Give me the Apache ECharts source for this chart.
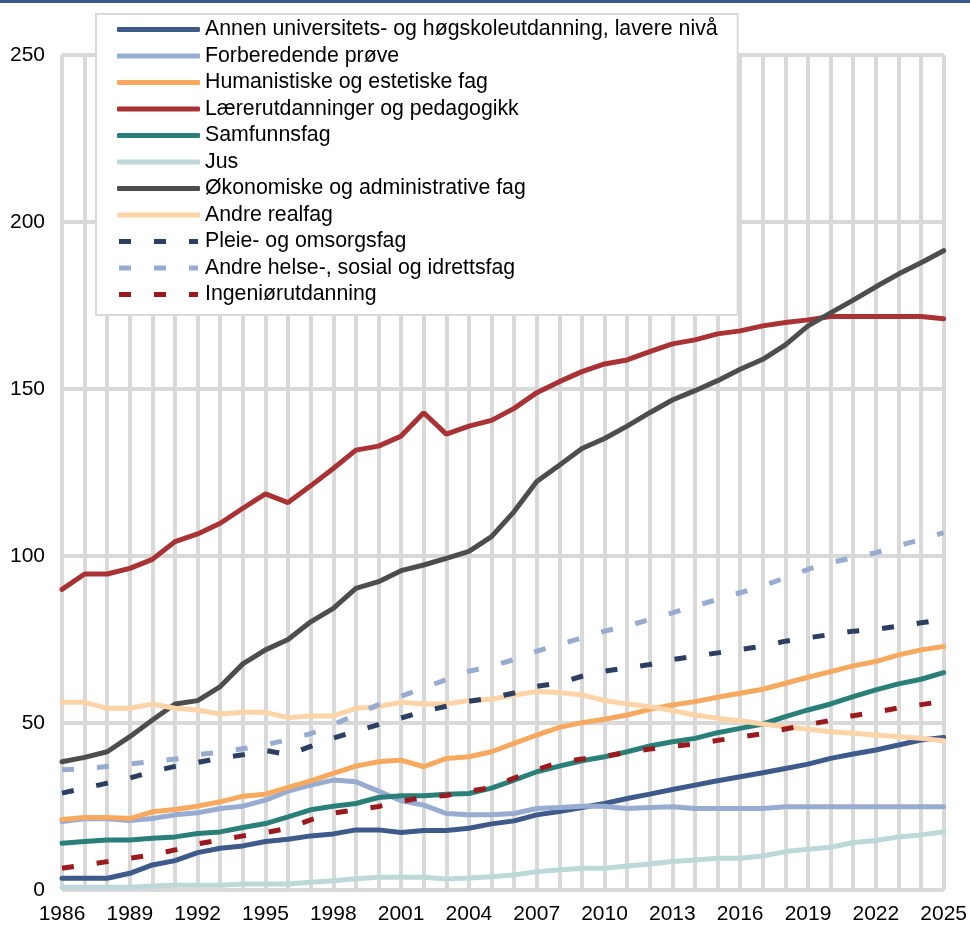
<!DOCTYPE html>
<html>
<head>
<meta charset="utf-8">
<script src="https://cdn.jsdelivr.net/npm/echarts@6/dist/echarts.min.js"></script>
<style>
  html, body { margin: 0; padding: 0; background: #fff; }
  #chart { width: 970px; height: 926px; }
</style>
</head>
<body>
<div id="chart"></div>
<script>
// år 1986-2025
var years = []
for (var y = 1986; y <= 2025; y++) years.push(String(y))

var names = [
  'Annen universitets- og høgskoleutdanning, lavere nivå',
  'Forberedende prøve',
  'Humanistiske og estetiske fag',
  'Lærerutdanninger og pedagogikk',
  'Samfunnsfag',
  'Jus',
  'Økonomiske og administrative fag',
  'Andre realfag',
  'Pleie- og omsorgsfag',
  'Andre helse-, sosial og idrettsfag',
  'Ingeniørutdanning'
]

var annen = [3.5, 3.5, 3.5, 5.0, 7.5, 8.8, 11.2, 12.5, 13.2, 14.5, 15.2, 16.2, 16.8, 18.0, 18.0, 17.2, 17.8, 17.8, 18.5, 19.8,
  20.7, 22.5, 23.5, 24.7, 25.9, 27.4, 28.7, 30.1, 31.4, 32.7, 33.9, 35.1, 36.4, 37.7, 39.4, 40.7, 41.9, 43.4, 44.9, 45.7]
var forberedende = [20.5, 21.3, 21.3, 20.8, 21.4, 22.5, 23.1, 24.4, 25.1, 26.9, 29.6, 31.4, 32.9, 32.4, 29.6, 26.7, 25.4, 22.9, 22.5, 22.5,
  22.9, 24.4, 24.7, 25.1, 25.1, 24.4, 24.7, 24.9, 24.4, 24.4, 24.4, 24.4, 24.9, 24.9, 24.9, 24.9, 24.9, 24.9, 24.9, 24.9]
var humanistiske = [21.1, 21.7, 21.7, 21.4, 23.4, 24.1, 25.1, 26.4, 28.1, 28.7, 30.7, 32.7, 34.9, 37.1, 38.4, 38.9, 36.9, 39.4, 39.9, 41.4,
  43.9, 46.4, 48.7, 50.1, 51.1, 52.4, 54.1, 55.4, 56.4, 57.7, 58.9, 60.1, 61.9, 63.7, 65.4, 67.1, 68.4, 70.4, 71.9, 72.9]
var laerer = [90.0, 94.6, 94.6, 96.3, 99.0, 104.3, 106.6, 109.8, 114.3, 118.6, 116.0, 121.0, 126.2, 131.7, 132.9, 135.9, 142.9, 136.5, 138.9, 140.6,
  144.2, 148.9, 152.2, 155.2, 157.5, 158.7, 161.2, 163.5, 164.7, 166.5, 167.4, 168.9, 169.9, 170.7, 171.7, 171.7, 171.7, 171.7, 171.7, 171.0]
var samfunnsfag = [14.0, 14.5, 15.0, 15.0, 15.5, 15.9, 16.9, 17.4, 18.7, 19.9, 21.9, 24.0, 25.1, 25.9, 27.7, 28.2, 28.2, 28.7, 28.9, 30.5,
  32.9, 35.4, 37.1, 38.7, 39.9, 41.4, 43.1, 44.4, 45.4, 47.1, 48.4, 49.7, 51.9, 53.9, 55.7, 57.9, 59.9, 61.7, 63.1, 65.1]
var jus = [0.8, 0.8, 0.8, 0.8, 1.2, 1.4, 1.4, 1.4, 1.8, 1.8, 1.8, 2.3, 2.8, 3.4, 3.8, 3.8, 3.8, 3.3, 3.6, 4.0,
  4.5, 5.5, 6.0, 6.5, 6.5, 7.2, 7.8, 8.5, 9.0, 9.5, 9.5, 10.2, 11.5, 12.2, 12.8, 14.2, 14.8, 15.9, 16.5, 17.4]
var okonomiske = [38.4, 39.7, 41.4, 45.9, 50.9, 55.7, 56.7, 60.9, 67.7, 71.9, 75.0, 80.3, 84.3, 90.3, 92.3, 95.6, 97.3, 99.3, 101.4, 105.8,
  113.3, 122.3, 127.2, 132.2, 135.2, 138.9, 142.9, 146.7, 149.5, 152.5, 155.9, 158.9, 163.2, 168.9, 172.8, 176.6, 180.6, 184.4, 187.8, 191.4]
var realfag = [56.2, 56.2, 54.4, 54.4, 55.7, 54.4, 53.9, 52.7, 53.2, 53.2, 51.6, 52.1, 52.1, 54.4, 54.9, 56.2, 55.7, 55.7, 56.7, 57.1,
  58.4, 59.4, 59.1, 58.4, 56.7, 55.7, 54.9, 53.7, 52.4, 51.4, 50.7, 49.7, 48.9, 48.1, 47.4, 46.9, 46.4, 45.9, 45.4, 44.7]
var pleie = [29.0, 30.5, 32.0, 33.5, 35.5, 37.0, 38.2, 39.5, 40.5, 41.8, 40.5, 43.0, 45.5, 47.5, 49.5, 51.5, 53.5, 55.0, 56.5, 57.5,
  59.0, 61.0, 62.0, 64.0, 65.5, 66.5, 67.5, 69.0, 70.0, 71.0, 72.0, 73.0, 74.5, 75.5, 76.5, 77.5, 78.0, 79.0, 80.0, 81.0]
var helse = [36.0, 36.3, 37.0, 37.7, 38.5, 39.2, 40.5, 41.3, 42.3, 43.5, 45.0, 46.8, 49.5, 52.5, 55.5, 58.0, 60.5, 63.0, 65.5, 67.0,
  69.0, 71.5, 73.5, 75.5, 77.5, 79.0, 81.0, 83.0, 85.0, 87.0, 89.0, 91.0, 93.5, 96.0, 98.0, 99.5, 101.0, 103.0, 105.0, 107.0]
var ingenior = [6.5, 7.5, 8.5, 9.5, 10.5, 12.0, 13.8, 15.0, 16.2, 17.2, 18.5, 21.0, 23.0, 24.0, 25.0, 26.5, 27.8, 28.3, 29.5, 30.7,
  33.5, 36.0, 38.2, 39.2, 40.0, 41.2, 42.2, 43.0, 43.7, 44.8, 45.8, 46.8, 48.2, 49.5, 50.8, 52.2, 53.2, 54.5, 55.5, 56.5]

var values = [annen, forberedende, humanistiske, laerer, samfunnsfag, jus, okonomiske, realfag, pleie, helse, ingenior]
var colors = ['#3e5a8a', '#98abd0', '#f6a95f', '#a83234', '#2a8079', '#bdd8d8', '#4d4d4d', '#fcd4a8', '#2c3e62', '#98abd0', '#9a1a1f']
var dashed = [false, false, false, false, false, false, false, false, true, true, true]

var font = 'Liberation Sans, Arial, sans-serif'
var gridColor = '#d9d9d9'
// legend-ikoner: hel strek eller tre firkanter
var solidIcon = 'roundRect'
var dashIcon = 'path://M0,0h12v5h-12z M35,0h12v5h-12z M70,0h9v5h-9z'

var series = names.map(function(n, i) {
  return {
    name: n,
    type: 'line',
    data: values[i],
    symbol: 'none',
    smooth: false,
    color: colors[i],
    lineStyle: {
      width: 5,
      color: colors[i],
      type: dashed[i] ? [12, 23] : 'solid',
      cap: dashed[i] ? 'butt' : 'round'
    },
    emphasis: { disabled: true }
  }
})

var legendData = names.map(function(n, i) {
  return { name: n, icon: dashed[i] ? dashIcon : solidIcon, itemStyle: { color: colors[i], borderWidth: 0 } }
})

var chart = echarts.init(document.getElementById('chart'))
chart.setOption({
  animation: false,
  backgroundColor: '#fff',
  graphic: [{
    type: 'rect',
    shape: { x: 0, y: 0, width: 970, height: 3 },
    style: { fill: '#3e5a8a' }
  }],
  grid: { left: 62, right: 24, top: 55, bottom: 36, containLabel: false },
  legend: {
    orient: 'vertical',
    left: 96,
    top: 14,
    padding: [5, 20, 10, 21],
    backgroundColor: '#fff',
    borderColor: gridColor,
    borderWidth: 2,
    itemWidth: 83,
    itemHeight: 5,
    itemGap: 5.5,
    textStyle: { fontFamily: font, fontSize: 21.3, color: '#000' },
    data: legendData
  },
  xAxis: {
    type: 'category',
    data: years,
    boundaryGap: false,
    axisLine: { show: false },
    axisTick: { show: false },
    axisLabel: {
      interval: 2,
      margin: 14,
      fontFamily: font,
      fontSize: 21,
      color: '#000'
    },
    splitLine: { show: true, interval: 0, lineStyle: { color: gridColor, width: 4 } }
  },
  yAxis: {
    type: 'value',
    min: 0,
    max: 250,
    interval: 50,
    axisLine: { show: false },
    axisTick: { show: false },
    axisLabel: { margin: 17, fontFamily: font, fontSize: 21, color: '#000' },
    splitLine: { show: true, lineStyle: { color: gridColor, width: 4 } }
  },
  series: series
})
</script>
</body>
</html>
